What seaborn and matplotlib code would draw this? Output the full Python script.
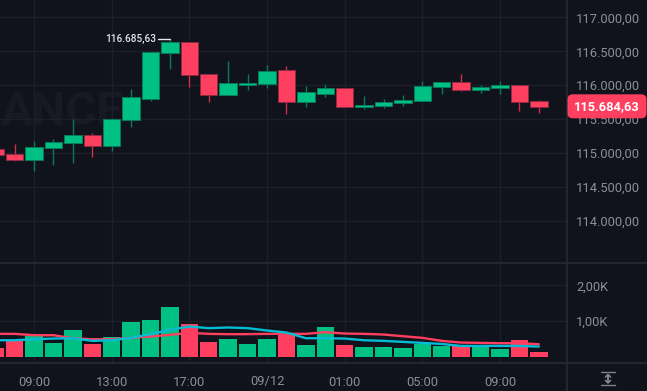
import numpy as np
import pandas as pd
import matplotlib
matplotlib.use("Agg")
import matplotlib.pyplot as plt
import seaborn as sns
from matplotlib.patches import FancyBboxPatch
from matplotlib.lines import Line2D

# ---- data ----
opens  = [115058,114989,114906,115078,115157,115265,115112,115486,115800,116479,116636,116164,115855,116002,116017,116218,115751,115869,115963,115678,115692,115737,115766,115968,116041,115928,115963,116007,115766]
closes = [114970,114901,115088,115171,115265,115107,115500,115820,116489,116636,116145,115855,116032,116032,116213,115751,115894,115963,115687,115707,115756,115781,115987,116041,115928,115977,116007,115751,115684.63]
highs  = [115150,115142,115176,115215,115500,115294,115520,115943,116494,116685.63,116636,116164,116356,116164,116297,116277,115987,116017,115963,115845,115800,115855,116056,116041,116164,116002,116061,116007,115781]
lows   = [114900,114891,114734,114822,114862,114940,115029,115388,115766,116233,115973,115751,115855,115923,115958,115574,115682,115830,115678,115648,115658,115692,115766,115869,115914,115884,115869,115619,115594]
volumes = [252,449,589,402,748,364,551,963,1028,1383,925,411,514,374,495,682,346,832,336,280,280,262,364,308,327,308,234,467,131]
ma_red  = [645,645,607,607,523,495,495,533,570,617,673,645,636,636,645,645,645,692,654,645,626,579,533,449,402,393,383,383,355]
ma_cyan = [467,467,495,514,523,449,467,533,636,757,850,804,822,804,738,682,523,523,514,467,449,421,393,364,308,308,308,308,290]
price_ticks = [114000,114500,115000,115500,116000,116500,117000]
price_labels = ["114.000,00","114.500,00","115.000,00","115.500,00","116.000,00","116.500,00","117.000,00"]
vol_ticks = [1000,2000]
vol_labels = ["1,00K","2,00K"]
time_pos = [2,6,10,14,18,22,26]
time_labels = ["09:00","13:00","17:00","09/12","01:00","05:00","09:00"]
last_label = "115.684,63"
peak_price = 116685.63
peak_label = "116.685,63"
watermark = "ANCE"

BG="#10131b"; GRID="#1b1f29"; SEP="#262a33"; TXT="#8b8f97"
UP="#00c084"; DOWN="#ff3f5f"; UPW="#067a5a"; DOWNW="#d02f4c"

sns.set_theme(style="dark")
plt.rcParams['font.family']=['Roboto','DejaVu Sans']

W,H=647,391
fig=plt.figure(figsize=(W/100,H/100),dpi=100,facecolor=BG)
def rect(x0,y0,x1,y1):
    return [x0/W,1-y1/H,(x1-x0)/W,(y1-y0)/H]
ax=fig.add_axes(rect(0,0,567,262.5))
axv=fig.add_axes(rect(0,262.5,567,363))
idx=np.arange(len(opens))
XL=(0.249,29.45)
df=pd.DataFrame(dict(i=idx,o=opens,c=closes,h=highs,l=lows,v=volumes,r=ma_red,b=ma_cyan))
df["dir"]=np.where(df.c>=df.o,"up","down")

for a in (ax,axv):
    a.set_facecolor(BG)
    for s in a.spines.values(): s.set_visible(False)

# watermark
ax.text(0.002,115611,watermark,color="#171a23",fontsize=34,fontweight="bold",ha="left",va="center",
        transform=ax.get_yaxis_transform(),zorder=0.5)

# candles
ax.vlines(df.i,df.l,df.h,colors=[UPW if d=="up" else DOWNW for d in df.dir],lw=1.0,zorder=2)
for _,r in df.iterrows():
    lo=min(r.o,r.c); hi=max(r.o,r.c)
    up=r.dir=="up"
    ax.bar(r.i,hi-lo,bottom=lo,width=0.9,color=UP if up else DOWN,
           edgecolor=UPW if up else "#8f2a40",linewidth=0.7,zorder=3)
ax.set_xlim(*XL); ax.set_ylim(113391,117255)
ax.set_yticks(price_ticks,price_labels)
ax.yaxis.tick_right()
ax.tick_params(axis="y",length=0,pad=6.5,labelsize=9.3,labelcolor=TXT)
ax.set_xticks(time_pos); ax.tick_params(axis="x",length=0,labelbottom=False)
ax.grid(True,color=GRID,lw=1.0); ax.set_axisbelow(True)

# peak marker
ax.plot([8.385,9.0],[peak_price,peak_price],color="#e4e6ea",lw=1,zorder=6)
ax.text(8.27,peak_price,peak_label,ha="right",va="center",color="#e4e6ea",fontsize=7.2,fontweight="medium",zorder=6)

# badge
bx=FancyBboxPatch((567.5/W,1-118.3/H),79/W,24/H,boxstyle="round,pad=0,rounding_size=0.008",
    transform=fig.transFigure,fc=DOWN,ec="none",zorder=10,mutation_aspect=W/H)
fig.add_artist(bx)
fig.text(607/W,1-106.8/H,last_label,color="white",fontsize=9.3,ha="center",va="center",fontweight="bold",zorder=11)

# volume pane
sns.barplot(data=df,x="i",y="v",hue="dir",palette={"up":UP,"down":DOWN},native_scale=True,dodge=False,
            width=0.9,legend=False,ax=axv,saturation=1,linewidth=0.7,edgecolor="none",zorder=2)
sns.lineplot(data=df,x="i",y="r",color=DOWN,lw=1.7,ax=axv,zorder=4)
sns.lineplot(data=df,x="i",y="b",color="#00bcd4",lw=1.7,ax=axv,zorder=5)
axv.set_xlim(*XL); axv.set_ylim(-168,2635)
axv.set_xlabel(""); axv.set_ylabel("")
axv.set_yticks(vol_ticks,vol_labels)
axv.yaxis.tick_right()
axv.tick_params(axis="y",length=0,pad=6.5,labelsize=9.3,labelcolor=TXT)
axv.set_xticks(time_pos,time_labels)
axv.tick_params(axis="x",length=0,pad=9,labelsize=9.3,labelcolor=TXT)
axv.grid(True,color=GRID,lw=1.0); axv.set_axisbelow(True)

# separators
for seg in [((0,W),(262.5,262.5)),((0,W),(363,363)),((567,567),(0,H))]:
    fig.add_artist(Line2D([s/W for s in seg[0]],[1-s/H for s in seg[1]],color=SEP,lw=1.2,transform=fig.transFigure))

# auto-scale icon
ic="#7d828b"
for y in (372,385):
    fig.add_artist(Line2D([601/W,615/W],[1-y/H,1-y/H],color=ic,lw=1,transform=fig.transFigure))
fig.add_artist(Line2D([608/W,608/W],[1-375/H,1-382/H],color=ic,lw=1.4,transform=fig.transFigure))
fig.add_artist(Line2D([605.5/W,608/W,610.5/W],[1-377/H,1-374.5/H,1-377/H],color=ic,lw=1.2,transform=fig.transFigure))
fig.add_artist(Line2D([605.5/W,608/W,610.5/W],[1-380.5/H,1-383/H,1-380.5/H],color=ic,lw=1.2,transform=fig.transFigure))

fig.savefig("out.png",dpi=100,facecolor=BG)
